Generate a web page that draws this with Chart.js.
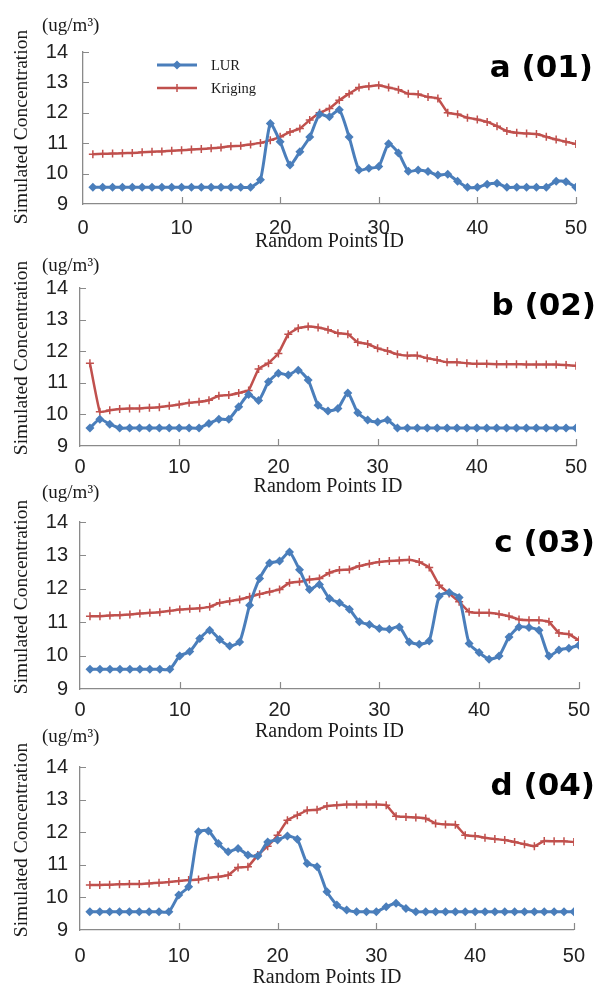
<!DOCTYPE html>
<html><head><meta charset="utf-8">
<script src="https://cdn.jsdelivr.net/npm/chart.js@4.4.1/dist/chart.umd.min.js"></script>
<style>
html,body{margin:0;padding:0;background:#fff;width:599px;height:988px;overflow:hidden}
canvas{position:absolute;left:0}
</style></head><body>
<canvas id="ca"></canvas><canvas id="cb"></canvas><canvas id="cc"></canvas><canvas id="cd"></canvas>
<script>
// ---- data ----
const pointIds = [1,2,3,4,5,6,7,8,9,10,11,12,13,14,15,16,17,18,19,20,21,22,23,24,25,26,27,28,29,30,31,32,33,34,35,36,37,38,39,40,41,42,43,44,45,46,47,48,49,50];
const xTickValues = [0,10,20,30,40,50];
const yTickValues = [9,10,11,12,13,14];
const seriesNames = ['LUR','Kriging'];
const panelLabels = ['a (01)','b (02)','c (03)','d (04)'];

const lurA = [9.55,9.55,9.55,9.55,9.55,9.55,9.55,9.55,9.55,9.55,9.55,9.55,9.55,9.55,9.55,9.55,9.55,9.8,11.65,11.05,10.28,10.72,11.2,11.95,11.87,12.1,11.2,10.12,10.18,10.23,10.98,10.68,10.08,10.12,10.07,9.95,9.98,9.75,9.55,9.55,9.65,9.68,9.55,9.55,9.55,9.55,9.55,9.75,9.73,9.55];
const krigA = [10.64,10.65,10.66,10.67,10.68,10.70,10.72,10.73,10.75,10.77,10.79,10.81,10.83,10.86,10.90,10.92,10.96,11.01,11.10,11.21,11.37,11.48,11.76,12.0,12.14,12.41,12.63,12.83,12.87,12.91,12.83,12.76,12.63,12.61,12.52,12.47,12.0,11.95,11.84,11.78,11.70,11.56,11.40,11.34,11.32,11.30,11.21,11.12,11.05,10.97];

const lurB = [9.57,9.85,9.69,9.57,9.57,9.57,9.57,9.57,9.57,9.57,9.57,9.57,9.71,9.85,9.85,10.24,10.63,10.44,11.03,11.3,11.25,11.4,11.09,10.29,10.11,10.19,10.68,10.05,9.82,9.76,9.82,9.57,9.57,9.57,9.57,9.57,9.57,9.57,9.57,9.57,9.57,9.57,9.57,9.57,9.57,9.57,9.57,9.57,9.57,9.57];
const krigB = [11.62,10.08,10.13,10.17,10.19,10.19,10.21,10.23,10.27,10.31,10.37,10.40,10.45,10.59,10.61,10.68,10.76,11.44,11.62,11.93,12.54,12.73,12.78,12.75,12.68,12.57,12.54,12.28,12.23,12.09,12.01,11.90,11.86,11.86,11.78,11.72,11.65,11.65,11.62,11.60,11.60,11.59,11.59,11.59,11.58,11.58,11.58,11.58,11.56,11.54];

const lurC = [9.59,9.59,9.59,9.59,9.59,9.59,9.59,9.59,9.59,9.99,10.12,10.51,10.76,10.48,10.29,10.41,11.51,12.31,12.77,12.83,13.10,12.57,11.98,12.13,11.71,11.58,11.39,11.01,10.93,10.81,10.79,10.86,10.41,10.34,10.44,11.78,11.89,11.74,10.36,10.09,9.89,9.99,10.56,10.86,10.84,10.76,9.99,10.17,10.22,10.31];
const krigC = [11.18,11.18,11.20,11.21,11.23,11.26,11.28,11.30,11.34,11.38,11.40,11.42,11.46,11.58,11.63,11.68,11.76,11.84,11.91,11.98,12.18,12.21,12.28,12.31,12.48,12.56,12.58,12.68,12.75,12.80,12.83,12.85,12.87,12.80,12.64,12.11,11.86,11.61,11.31,11.28,11.28,11.24,11.18,11.08,11.06,11.06,11.01,10.68,10.64,10.46];

const lurD = [9.56,9.56,9.56,9.56,9.56,9.56,9.56,9.56,9.56,10.07,10.33,12.01,12.04,11.65,11.40,11.50,11.30,11.27,11.70,11.76,11.88,11.78,11.04,10.94,10.17,9.77,9.61,9.56,9.56,9.56,9.71,9.82,9.66,9.56,9.56,9.56,9.56,9.56,9.56,9.56,9.56,9.56,9.56,9.56,9.56,9.56,9.56,9.56,9.56,9.56];
const krigD = [10.38,10.38,10.39,10.40,10.41,10.41,10.43,10.45,10.47,10.50,10.53,10.55,10.60,10.63,10.68,10.92,10.94,11.30,11.57,11.91,12.37,12.52,12.67,12.69,12.80,12.83,12.85,12.85,12.85,12.85,12.83,12.49,12.47,12.45,12.42,12.27,12.24,12.23,11.91,11.88,11.83,11.79,11.76,11.70,11.63,11.57,11.73,11.72,11.72,11.70];

// ---- styles / layout ----
const BLUE = '#4a7ebb', RED = '#c0504d', AXIS = '#8a8a8a', TXT = '#1a1a1a';
const W = 599;
const panels = [
  {canvas:'ca', lur:lurA, krig:krigA, label:panelLabels[0], top:0,   h:258, L:83, R:580, T:52,  B:204, yPad:15, xPad:12, unitBase:31,  yTitleC:127, xTitleC:242, labelBase:77,  labelRight:593, legend:true},
  {canvas:'cb', lur:lurB, krig:krigB, label:panelLabels[1], top:250, h:250, L:80, R:576, T:288, B:446, yPad:12, xPad:9,  unitBase:271, yTitleC:358, xTitleC:487, labelBase:315, labelRight:596, legend:false},
  {canvas:'cc', lur:lurC, krig:krigC, label:panelLabels[2], top:478, h:262, L:80, R:579, T:522, B:689, yPad:12, xPad:9,  unitBase:498, yTitleC:597, xTitleC:732, labelBase:552, labelRight:595, legend:false},
  {canvas:'cd', lur:lurD, krig:krigD, label:panelLabels[3], top:724, h:264, L:80, R:579, T:767, B:930, yPad:12, xPad:14, unitBase:742, yTitleC:840, xTitleC:978, labelBase:795, labelRight:595, legend:false}
];

function drawMarker(ctx, style, x, y, r, color) {
  ctx.save();
  ctx.fillStyle = color; ctx.strokeStyle = color;
  if (style === 'rectRot') {
    ctx.beginPath(); ctx.moveTo(x, y-r); ctx.lineTo(x+r, y); ctx.lineTo(x, y+r); ctx.lineTo(x-r, y); ctx.closePath(); ctx.fill();
  } else {
    ctx.lineWidth = 1.5;
    ctx.beginPath(); ctx.moveTo(x, y-r); ctx.lineTo(x, y+r); ctx.moveTo(x-r, y); ctx.lineTo(x+r, y); ctx.stroke();
  }
  ctx.restore();
}

function makeDecor(p) {
  return {
    id: 'decor',
    afterDraw(chart) {
      const ctx = chart.ctx, xs = chart.scales.x, ys = chart.scales.y;
      const off = p.top;
      ctx.save();
      // inward tick marks
      ctx.strokeStyle = AXIS; ctx.lineWidth = 1.2;
      ctx.beginPath();
      yTickValues.slice(1).forEach(v => {
        const py = Math.round(ys.getPixelForValue(v)) + 0.5;
        ctx.moveTo(xs.left, py); ctx.lineTo(xs.left + 6, py);
      });
      xTickValues.slice(1).forEach(v => {
        const px = Math.round(xs.getPixelForValue(v)) + 0.5;
        ctx.moveTo(px, ys.bottom); ctx.lineTo(px, ys.bottom - 7);
      });
      ctx.stroke();
      // unit label
      ctx.fillStyle = TXT;
      ctx.font = '19px "Liberation Serif", "Times New Roman", serif';
      ctx.textAlign = 'left'; ctx.textBaseline = 'alphabetic';
      ctx.fillText('(ug/m\u00B3)', 42, p.unitBase - off);
      // y title
      ctx.save();
      ctx.translate(22, p.yTitleC - off);
      ctx.rotate(-Math.PI / 2);
      ctx.textAlign = 'center'; ctx.textBaseline = 'middle';
      ctx.font = '19.5px "Liberation Serif", "Times New Roman", serif';
      ctx.fillText('Simulated Concentration', 0, 0);
      ctx.restore();
      // x title
      ctx.textAlign = 'center'; ctx.textBaseline = 'middle';
      ctx.font = '20px "Liberation Serif", "Times New Roman", serif';
      ctx.fillText('Random Points ID', (xs.left + xs.right) / 2, p.xTitleC - off);
      // panel label
      ctx.textAlign = 'right'; ctx.textBaseline = 'alphabetic';
      ctx.fillStyle = '#000';
      ctx.font = 'bold 31px "DejaVu Sans", Verdana, sans-serif';
      ctx.fillText(p.label, p.labelRight, p.labelBase - off);
      // legend
      if (p.legend) {
        const ds = chart.data.datasets;
        const rows = [65, 88];
        ds.forEach((d, i) => {
          const y = rows[i] - off;
          ctx.strokeStyle = d.borderColor; ctx.lineWidth = d.borderWidth;
          ctx.beginPath(); ctx.moveTo(157, y); ctx.lineTo(197, y); ctx.stroke();
          drawMarker(ctx, d.pointStyle, 177, y, d.pointRadius, d.borderColor);
          ctx.fillStyle = TXT;
          ctx.font = '14.5px "Liberation Serif", "Times New Roman", serif';
          ctx.textAlign = 'left'; ctx.textBaseline = 'middle';
          ctx.fillText(d.label, 211, y + 1);
        });
      }
      ctx.restore();
    }
  };
}

panels.forEach(p => {
  const cv = document.getElementById(p.canvas);
  cv.width = W; cv.height = p.h;
  cv.style.top = p.top + 'px'; cv.style.width = W + 'px'; cv.style.height = p.h + 'px';
  const T = p.T - p.top, B = p.B - p.top;
  new Chart(cv, {
    type: 'line',
    data: {
      datasets: [
        {label: seriesNames[0], data: pointIds.map((x, i) => ({x, y: p.lur[i]})),
         borderColor: BLUE, backgroundColor: BLUE, borderWidth: 3, pointStyle: 'rectRot',
         pointRadius: 4.5, pointBorderWidth: 0, pointBackgroundColor: BLUE, tension: 0.2},
        {label: seriesNames[1], data: pointIds.map((x, i) => ({x, y: p.krig[i]})),
         borderColor: RED, backgroundColor: RED, borderWidth: 2.5, pointStyle: 'cross',
         pointRadius: 4, pointBorderWidth: 1.5, pointBorderColor: RED, tension: 0.1}
      ]
    },
    options: {
      responsive: false, animation: false, devicePixelRatio: 1,
      layout: {padding: {left: 0, top: T, right: W - p.R, bottom: 0}},
      plugins: {legend: {display: false}, tooltip: {enabled: false}, title: {display: false}},
      scales: {
        x: {
          type: 'linear', min: 0, max: 50,
          afterBuildTicks: s => { s.ticks = xTickValues.map(v => ({value: v})); },
          afterFit: s => { s.height = p.h - B; },
          grid: {display: false, drawTicks: false},
          border: {display: true, color: AXIS, width: 1.3},
          ticks: {padding: p.xPad, color: '#222', font: {family: '"Liberation Sans", Arial, sans-serif', size: 20}, maxRotation: 0}
        },
        y: {
          type: 'linear', min: 9, max: 14,
          afterBuildTicks: s => { s.ticks = yTickValues.map(v => ({value: v})); },
          afterFit: s => { s.width = p.L; },
          grid: {display: false, drawTicks: false},
          border: {display: true, color: AXIS, width: 1.3},
          ticks: {padding: p.yPad, color: '#222', font: {family: '"Liberation Sans", Arial, sans-serif', size: 20}}
        }
      }
    },
    plugins: [makeDecor(p)]
  });
});
</script>
</body></html>
